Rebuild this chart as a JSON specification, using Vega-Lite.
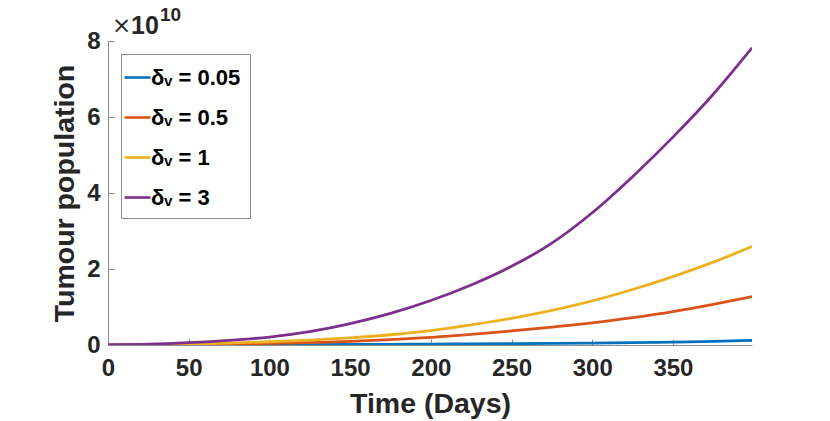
{
  "$schema": "https://vega.github.io/schema/vega-lite/v6.json",
  "autosize": {"type": "none"},
  "padding": {"left": 108, "top": 41, "right": 78, "bottom": 76},
  "width": 644,
  "height": 304,
  "background": "white",
  "config": {
    "view": {"stroke": null},
    "font": "Liberation Sans",
    "axis": {
      "grid": false,
      "labelFlush": false,
      "domainColor": "#8c8c8c",
      "domainWidth": 1,
      "tickColor": "#8c8c8c",
      "tickWidth": 1,
      "labelFont": "Liberation Sans",
      "labelFontSize": 24,
      "labelFontWeight": "bold",
      "labelColor": "#262626",
      "titleFont": "Liberation Sans",
      "titleFontSize": 28.5,
      "titleFontWeight": "bold",
      "titleColor": "#262626"
    },
    "legend": {
      "orient": "top-left",
      "offset": 13,
      "fillColor": "white",
      "strokeColor": "#8c8c8c",
      "padding": 9,
      "symbolType": "stroke",
      "symbolSize": 676,
      "symbolOffset": -7,
      "symbolStrokeWidth": 2.6,
      "labelFont": "Liberation Sans",
      "labelFontSize": 22,
      "labelFontWeight": "bold",
      "labelColor": "#000000",
      "labelOffset": -1,
      "rowPadding": 14
    }
  },
  "layer": [
    {
      "data": {
        "values": [
          {"day": 0, "population": 2e7, "series": "δᵥ = 0.05"},
          {"day": 25, "population": 3e7, "series": "δᵥ = 0.05"},
          {"day": 50, "population": 5e7, "series": "δᵥ = 0.05"},
          {"day": 75, "population": 7e7, "series": "δᵥ = 0.05"},
          {"day": 100, "population": 9e7, "series": "δᵥ = 0.05"},
          {"day": 125, "population": 1.2e8, "series": "δᵥ = 0.05"},
          {"day": 150, "population": 1.5e8, "series": "δᵥ = 0.05"},
          {"day": 175, "population": 1.9e8, "series": "δᵥ = 0.05"},
          {"day": 200, "population": 2.4e8, "series": "δᵥ = 0.05"},
          {"day": 225, "population": 2.9e8, "series": "δᵥ = 0.05"},
          {"day": 250, "population": 3.5e8, "series": "δᵥ = 0.05"},
          {"day": 275, "population": 4.2e8, "series": "δᵥ = 0.05"},
          {"day": 300, "population": 5.0e8, "series": "δᵥ = 0.05"},
          {"day": 325, "population": 6.2e8, "series": "δᵥ = 0.05"},
          {"day": 350, "population": 7.6e8, "series": "δᵥ = 0.05"},
          {"day": 375, "population": 9.5e8, "series": "δᵥ = 0.05"},
          {"day": 399, "population": 1.2e9, "series": "δᵥ = 0.05"},
          {"day": 0, "population": 3e7, "series": "δᵥ = 0.5"},
          {"day": 25, "population": 7e7, "series": "δᵥ = 0.5"},
          {"day": 50, "population": 1.4e8, "series": "δᵥ = 0.5"},
          {"day": 75, "population": 2.5e8, "series": "δᵥ = 0.5"},
          {"day": 100, "population": 4.2e8, "series": "δᵥ = 0.5"},
          {"day": 125, "population": 6.5e8, "series": "δᵥ = 0.5"},
          {"day": 150, "population": 9.5e8, "series": "δᵥ = 0.5"},
          {"day": 175, "population": 1.4e9, "series": "δᵥ = 0.5"},
          {"day": 200, "population": 2.0e9, "series": "δᵥ = 0.5"},
          {"day": 225, "population": 2.8e9, "series": "δᵥ = 0.5"},
          {"day": 250, "population": 3.7e9, "series": "δᵥ = 0.5"},
          {"day": 275, "population": 4.7e9, "series": "δᵥ = 0.5"},
          {"day": 300, "population": 5.8e9, "series": "δᵥ = 0.5"},
          {"day": 325, "population": 7.2e9, "series": "δᵥ = 0.5"},
          {"day": 350, "population": 8.8e9, "series": "δᵥ = 0.5"},
          {"day": 375, "population": 1.07e10, "series": "δᵥ = 0.5"},
          {"day": 399, "population": 1.27e10, "series": "δᵥ = 0.5"},
          {"day": 0, "population": 4e7, "series": "δᵥ = 1"},
          {"day": 25, "population": 1e8, "series": "δᵥ = 1"},
          {"day": 50, "population": 2.5e8, "series": "δᵥ = 1"},
          {"day": 75, "population": 5e8, "series": "δᵥ = 1"},
          {"day": 100, "population": 8.5e8, "series": "δᵥ = 1"},
          {"day": 125, "population": 1.3e9, "series": "δᵥ = 1"},
          {"day": 150, "population": 1.9e9, "series": "δᵥ = 1"},
          {"day": 175, "population": 2.7e9, "series": "δᵥ = 1"},
          {"day": 200, "population": 3.8e9, "series": "δᵥ = 1"},
          {"day": 225, "population": 5.3e9, "series": "δᵥ = 1"},
          {"day": 250, "population": 7.0e9, "series": "δᵥ = 1"},
          {"day": 275, "population": 9.1e9, "series": "δᵥ = 1"},
          {"day": 300, "population": 1.16e10, "series": "δᵥ = 1"},
          {"day": 325, "population": 1.46e10, "series": "δᵥ = 1"},
          {"day": 350, "population": 1.80e10, "series": "δᵥ = 1"},
          {"day": 375, "population": 2.18e10, "series": "δᵥ = 1"},
          {"day": 399, "population": 2.59e10, "series": "δᵥ = 1"},
          {"day": 0, "population": 5e7, "series": "δᵥ = 3"},
          {"day": 25, "population": 2e8, "series": "δᵥ = 3"},
          {"day": 50, "population": 6e8, "series": "δᵥ = 3"},
          {"day": 75, "population": 1.2e9, "series": "δᵥ = 3"},
          {"day": 100, "population": 2.1e9, "series": "δᵥ = 3"},
          {"day": 125, "population": 3.5e9, "series": "δᵥ = 3"},
          {"day": 150, "population": 5.6e9, "series": "δᵥ = 3"},
          {"day": 175, "population": 8.3e9, "series": "δᵥ = 3"},
          {"day": 200, "population": 1.17e10, "series": "δᵥ = 3"},
          {"day": 225, "population": 1.58e10, "series": "δᵥ = 3"},
          {"day": 250, "population": 2.07e10, "series": "δᵥ = 3"},
          {"day": 275, "population": 2.68e10, "series": "δᵥ = 3"},
          {"day": 300, "population": 3.48e10, "series": "δᵥ = 3"},
          {"day": 325, "population": 4.43e10, "series": "δᵥ = 3"},
          {"day": 350, "population": 5.47e10, "series": "δᵥ = 3"},
          {"day": 375, "population": 6.60e10, "series": "δᵥ = 3"},
          {"day": 399, "population": 7.82e10, "series": "δᵥ = 3"}
        ]
      },
      "mark": {"type": "line", "strokeWidth": 2.8, "interpolate": "monotone", "clip": true},
      "encoding": {
        "x": {
          "field": "day",
          "type": "quantitative",
          "scale": {"domain": [0, 399], "nice": false, "zero": false},
          "axis": {
            "title": "Time (Days)",
            "values": [0, 50, 100, 150, 200, 250, 300, 350],
            "tickSize": -6,
            "labelPadding": 17,
            "titlePadding": 9
          }
        },
        "y": {
          "field": "population",
          "type": "quantitative",
          "scale": {"domain": [0, 80000000000], "nice": false},
          "axis": {
            "title": "Tumour population",
            "values": [0, 20000000000, 40000000000, 60000000000, 80000000000],
            "labelExpr": "format(datum.value / 1e10, 'd')",
            "tickSize": -6,
            "labelPadding": 14,
            "titlePadding": 7
          }
        },
        "color": {
          "field": "series",
          "type": "nominal",
          "sort": null,
          "scale": {
            "domain": ["δᵥ = 0.05", "δᵥ = 0.5", "δᵥ = 1", "δᵥ = 3"],
            "range": ["#0072BD", "#D95319", "#EDB120", "#7E2F8E"]
          },
          "legend": {"title": null}
        }
      }
    },
    {
      "data": {"values": [{"x": 0, "y": 80000000000, "t": "×"}]},
      "mark": {"type": "text", "align": "left", "baseline": "alphabetic", "dx": 4, "dy": -8, "fontSize": 23, "fontWeight": "normal", "font": "DejaVu Sans", "color": "#262626"},
      "encoding": {
        "x": {"field": "x", "type": "quantitative"},
        "y": {"field": "y", "type": "quantitative"},
        "text": {"field": "t"}
      }
    },
    {
      "data": {"values": [{"x": 0, "y": 80000000000, "t": "10"}]},
      "mark": {"type": "text", "align": "left", "baseline": "alphabetic", "dx": 23, "dy": -7, "fontSize": 25, "fontWeight": "bold", "color": "#262626"},
      "encoding": {
        "x": {"field": "x", "type": "quantitative"},
        "y": {"field": "y", "type": "quantitative"},
        "text": {"field": "t"}
      }
    },
    {
      "data": {"values": [{"x": 0, "y": 80000000000, "t": "10"}]},
      "mark": {"type": "text", "align": "left", "baseline": "alphabetic", "dx": 52, "dy": -20, "fontSize": 19, "fontWeight": "bold", "color": "#262626"},
      "encoding": {
        "x": {"field": "x", "type": "quantitative"},
        "y": {"field": "y", "type": "quantitative"},
        "text": {"field": "t"}
      }
    }
  ]
}
